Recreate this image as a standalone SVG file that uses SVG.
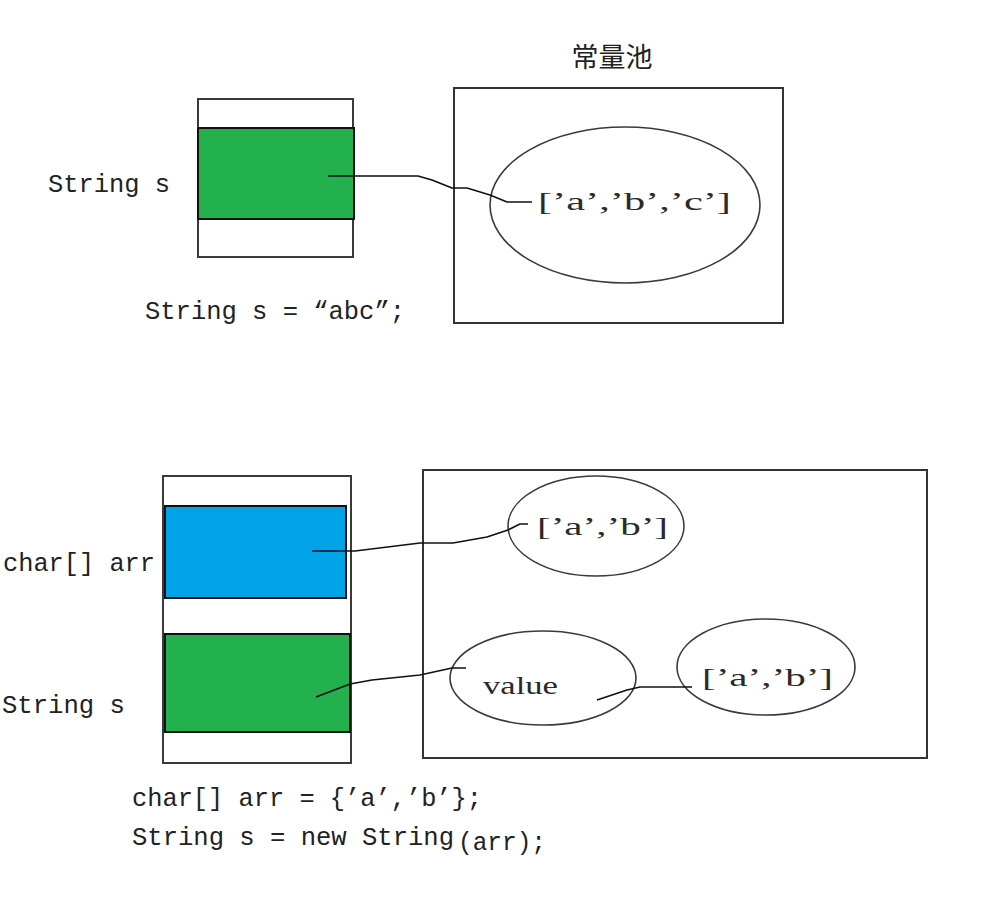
<svg xmlns="http://www.w3.org/2000/svg" width="993" height="912" viewBox="0 0 993 912">
<style>
.box{fill:#fff;stroke:#3a3a3a;stroke-width:2}
.cell{stroke:#111;stroke-width:2}
.pool{fill:none;stroke:#333;stroke-width:2}
.ell{fill:none;stroke:#3a3a3a;stroke-width:1.6}
.wire{fill:none;stroke:#111;stroke-width:1.6;stroke-linejoin:round}
.code{font-family:"Liberation Mono","DejaVu Sans Mono",monospace;font-size:25px;fill:#222}
.arr{font-family:"Liberation Serif","DejaVu Serif",serif;font-size:26px;fill:#2a2a2a}
.cjk{font-family:"Noto Sans CJK SC",sans-serif;font-size:27px;fill:#222}
</style>
<rect width="993" height="912" fill="#fff"/>
<g id="stack1">
<rect class="box" x="198" y="99" width="155" height="158"/>
<rect class="cell" x="198" y="128" width="156" height="91" fill="#22b14c"/>
<text class="code" x="48" y="192" textLength="122" lengthAdjust="spacingAndGlyphs">String s</text>
<text class="code" x="145" y="319" textLength="260" lengthAdjust="spacingAndGlyphs">String s = “abc”;</text>
</g>
<g id="pool1">
<text class="cjk" x="612" y="67" text-anchor="middle">常量池</text>
<rect class="pool" x="454" y="88" width="329" height="235"/>
<ellipse class="ell" cx="625" cy="205" rx="135" ry="78"/>
<text class="arr" x="538" y="210" textLength="193" lengthAdjust="spacingAndGlyphs">[’a’,’b’,’c’]</text>
</g>
<g id="stack2">
<rect class="box" x="163" y="476" width="188" height="287"/>
<rect class="cell" x="165" y="506" width="181" height="92" fill="#00a2e8"/>
<rect class="cell" x="165" y="634" width="185" height="98" fill="#22b14c"/>
<text class="code" x="3" y="571" textLength="152" lengthAdjust="spacingAndGlyphs">char[] arr</text>
<text class="code" x="2" y="713" textLength="123" lengthAdjust="spacingAndGlyphs">String s</text>
<text class="code" x="132" y="806" textLength="350" lengthAdjust="spacingAndGlyphs">char[] arr = {’a’,’b’};</text>
<text class="code" x="132" y="845" textLength="322" lengthAdjust="spacingAndGlyphs">String s = new String</text>
<text class="code" x="458" y="850" textLength="88" lengthAdjust="spacingAndGlyphs">(arr);</text>
</g>
<g id="pool2">
<rect class="pool" x="423" y="470" width="504" height="288"/>
<ellipse class="ell" cx="596" cy="526" rx="88" ry="50"/>
<text class="arr" x="537" y="535" textLength="131" lengthAdjust="spacingAndGlyphs">[’a’,’b’]</text>
<ellipse class="ell" cx="543" cy="678" rx="93" ry="47"/>
<text class="arr" x="483" y="694" textLength="75" lengthAdjust="spacingAndGlyphs">value</text>
<ellipse class="ell" cx="766" cy="667" rx="89" ry="48"/>
<text class="arr" x="702" y="686" textLength="131" lengthAdjust="spacingAndGlyphs">[’a’,’b’]</text>
</g>
<g id="connectors">
<polyline class="wire" points="328,176 418,176 432,180 452,188 467,188 490,195 507,202 532,202"/>
<polyline class="wire" points="312,551 355,551 420,543 453,543 487,537 508,530 520,524 528,524"/>
<polyline class="wire" points="316,697 350,684 372,680 420,675 452,668 466,668"/>
<polyline class="wire" points="597,700 612,695 627,690 640,687 692,687"/>
</g>
</svg>
